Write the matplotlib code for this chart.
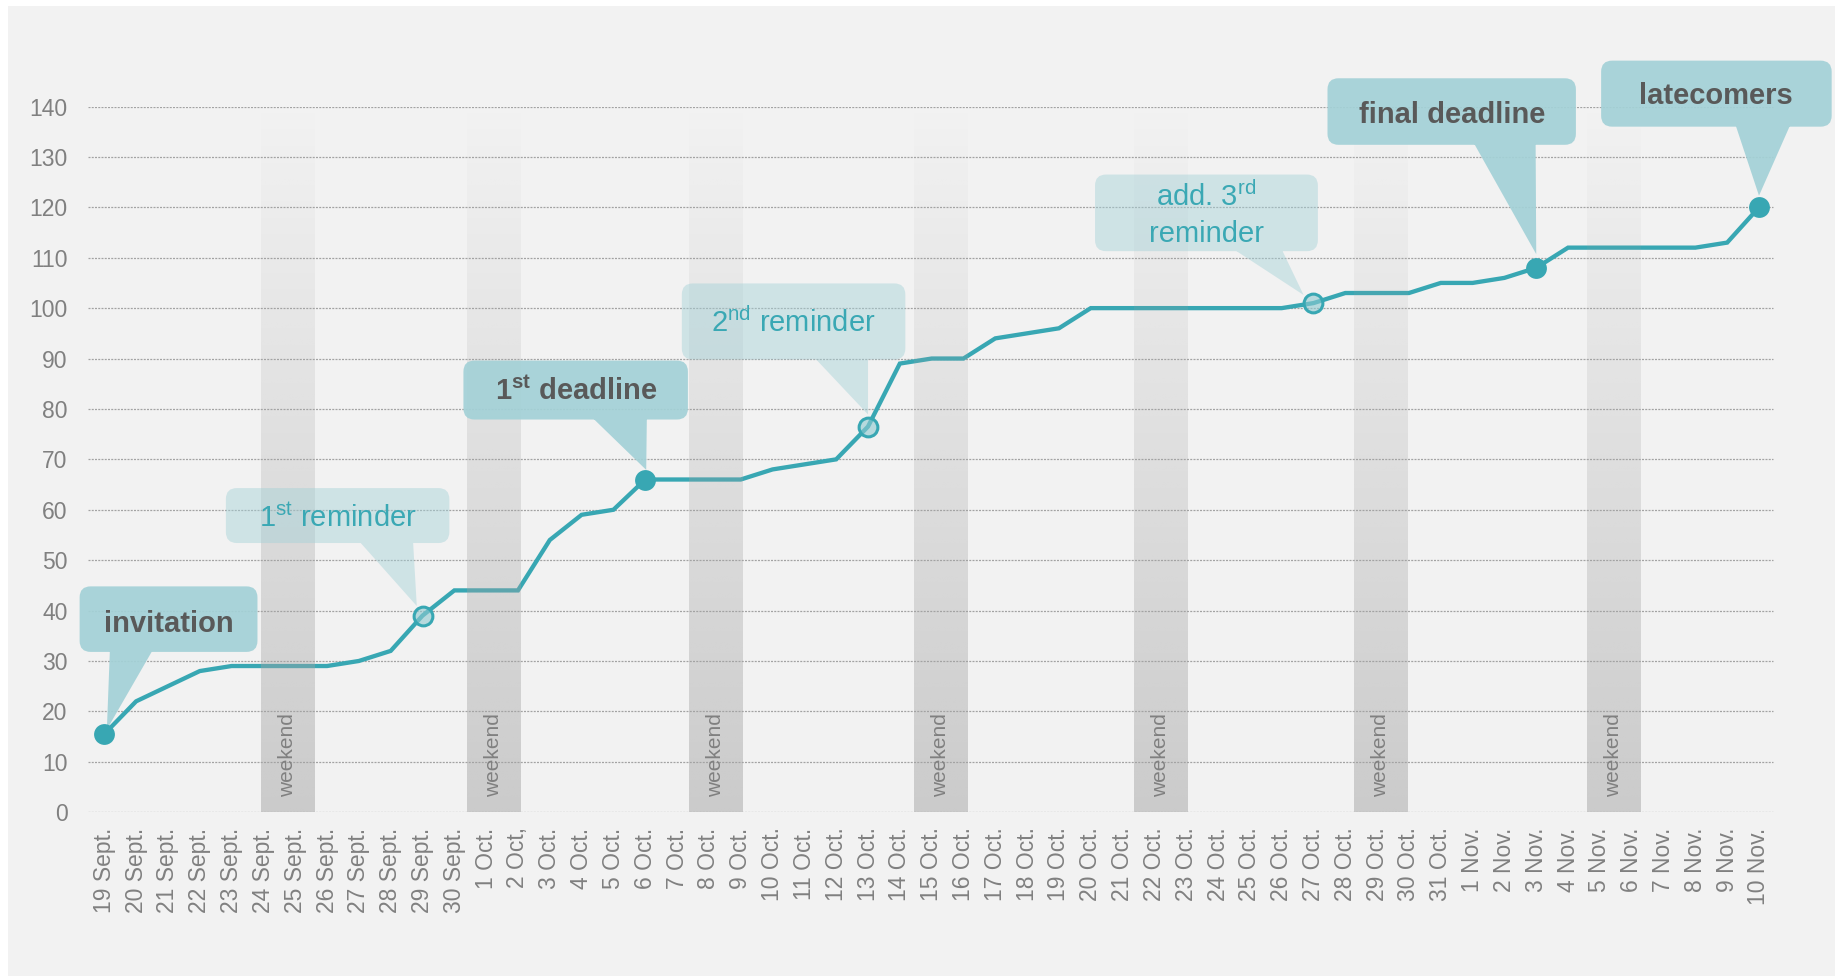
import numpy as np
import matplotlib
matplotlib.use("Agg")
import matplotlib.pyplot as plt
from matplotlib.patches import PathPatch, BoxStyle, Rectangle
from matplotlib.path import Path
from matplotlib.transforms import IdentityTransform
from matplotlib.colors import to_rgba

plt.rcParams['font.family'] = ['Liberation Sans', 'DejaVu Sans']
plt.rcParams['mathtext.fontset'] = 'custom'
plt.rcParams['mathtext.rm'] = 'Liberation Sans'
plt.rcParams['mathtext.it'] = 'Liberation Sans:italic'
plt.rcParams['mathtext.bf'] = 'Liberation Sans:bold'

# ---------------- data ----------------
dates = ['19 Sept.', '20 Sept.', '21 Sept.', '22 Sept.', '23 Sept.', '24 Sept.', '25 Sept.',
         '26 Sept.', '27 Sept.', '28 Sept.', '29 Sept.', '30 Sept.',
         '1 Oct.', '2 Oct,', '3 Oct.', '4 Oct.', '5 Oct.', '6 Oct.', '7 Oct.', '8 Oct.', '9 Oct.',
         '10 Oct.', '11 Oct.', '12 Oct.', '13 Oct.', '14 Oct.', '15 Oct.', '16 Oct.', '17 Oct.',
         '18 Oct.', '19 Oct.', '20 Oct.', '21 Oct.', '22 Oct.', '23 Oct.', '24 Oct.', '25 Oct.',
         '26 Oct.', '27 Oct.', '28 Oct.', '29 Oct.', '30 Oct.', '31 Oct.',
         '1 Nov.', '2 Nov.', '3 Nov.', '4 Nov.', '5 Nov.', '6 Nov.', '7 Nov.', '8 Nov.',
         '9 Nov.', '10 Nov.']
responses = [15.5, 22, 25, 28, 29, 29, 29, 29, 30, 32, 39, 44, 44, 44, 54, 59, 60, 66, 66, 66,
             66, 68, 69, 70, 76.5, 89, 90, 90, 94, 95, 96, 100, 100, 100, 100, 100, 100, 100,
             101, 103, 103, 103, 105, 105, 106, 108, 112, 112, 112, 112, 112, 113, 120]
y_ticks = [0, 10, 20, 30, 40, 50, 60, 70, 80, 90, 100, 110, 120, 130, 140]

weekend_saturdays = ['24 Sept.', '1 Oct.', '8 Oct.', '15 Oct.', '22 Oct.', '29 Oct.', '5 Nov.']
weekend_label = 'weekend'

event_dates = ['19 Sept.', '29 Sept.', '6 Oct.', '13 Oct.', '27 Oct.', '3 Nov.', '10 Nov.']
event_filled = [True, False, True, False, False, True, True]

# ---------------- style ----------------
TEAL = '#38a7b3'
TEAL_TXT = '#3aa8b4'
DARK_TXT = '#595959'
GRAY_TXT = '#808080'
BOX_C = '#a3d1d7'

W, H = 1835, 976
fig = plt.figure(figsize=(W / 100, H / 100), dpi=100)
fig.patch.set_facecolor('white')
fig.add_artist(Rectangle((8 / W, 0), 1, (H - 6) / H, transform=fig.transFigure,
                         facecolor='#f2f2f2', edgecolor='none', zorder=-5))

left, right = 88.4, 1774.9
bottom, top = 812.2, 106.5
ax = fig.add_axes([left / W, 1 - bottom / H, (right - left) / W, (bottom - top) / H])
ax.set_facecolor('none')
for s in ax.spines.values():
    s.set_visible(False)

x = np.arange(len(dates))

# grid
ax.hlines(y_ticks, -0.5, 52.45, colors='#a3a3a3', linewidth=0.9,
          linestyles=[(0, (1.6, 1.0))], zorder=1)

# line
ax.plot(x, responses, color=TEAL, linewidth=3.1, solid_joinstyle='miter', zorder=2)

# weekend bands (gradient)
band_shift = [0.787, 0.239, 0.223, 0.297, 0.211, 0.135, 0.450]
band_w = 1.696
grad = np.zeros((256, 1, 4))
grad[..., :3] = 164 / 255
grad[:, 0, 3] = 0.5 * (1 - np.linspace(0, 1, 256))
for d, sh in zip(weekend_saturdays, band_shift):
    c = dates.index(d) + sh
    ax.imshow(grad, extent=[c - band_w / 2, c + band_w / 2, 0, 140], origin='lower',
              aspect='auto', interpolation='bilinear', zorder=3)
    ax.text(c - 0.02, 3.0, weekend_label, rotation=90, ha='center', va='bottom',
            fontsize=15, color=GRAY_TXT, zorder=3.5)
ax.set_xlim(-0.5, 52.5)
ax.set_ylim(0, 140)

# ticks
ax.set_xticks(x)
ax.set_xticklabels(dates, rotation=90, ha='center', va='top')
ax.set_yticks(y_ticks)
ax.set_yticklabels([str(v) for v in y_ticks])
ax.tick_params(axis='x', length=0, pad=11, labelsize=16.5, labelcolor=GRAY_TXT)
ax.tick_params(axis='y', length=0, pad=15, labelsize=16.5, labelcolor=GRAY_TXT)


# ---------------- callouts ----------------
def signed_area(p):
    xs, ys = p[:, 0], p[:, 1]
    return 0.5 * np.sum(xs * np.roll(ys, -1) - np.roll(xs, -1) * ys)


def callout(box, base, tip, alpha, r=11):
    x0, x1, ytop, ybot = box
    T = ax.transData
    px0, py0 = T.transform((x0, ybot))
    px1, py1 = T.transform((x1, ytop))
    bp = BoxStyle.Round(pad=0, rounding_size=r)(px0, py0, px1 - px0, py1 - py0, 1.0)
    poly = bp.to_polygons()[0]
    bx0, by = T.transform((base[0], ybot))
    bx1, _ = T.transform((base[1], ybot))
    tx, ty = T.transform(tip)
    tri = np.array([[bx0, by + 3], [bx1, by + 3], [tx, ty]])
    if np.sign(signed_area(tri)) != np.sign(signed_area(poly)):
        tri = tri[::-1]
    verts = np.vstack([poly, poly[:1], tri, tri[:1]])
    codes = ([Path.MOVETO] + [Path.LINETO] * (len(poly) - 1) + [Path.CLOSEPOLY] +
             [Path.MOVETO, Path.LINETO, Path.LINETO, Path.CLOSEPOLY])
    patch = PathPatch(Path(verts, codes), transform=IdentityTransform(), facecolor=BOX_C,
                      edgecolor='none', alpha=alpha, zorder=4)
    patch.set_clip_on(False)
    ax.add_artist(patch)


bold_kw = dict(ha='center', va='baseline', fontsize=21, fontweight='bold', color=DARK_TXT,
               zorder=6, clip_on=False)
reg_kw = dict(ha='center', va='baseline', fontsize=21, color=TEAL_TXT, zorder=6, clip_on=False)

# invitation
callout((-0.776, 4.813, 44.8, 31.8), (0.177, 1.542), (0.08, 16.4), 0.92)
ax.text(2.034, 35.8, 'invitation', **bold_kw)
# 1st reminder
callout((3.820, 10.844, 64.3, 53.4), (7.974, 9.700), (9.82, 40.9), 0.45)
ax.text(7.352, 56.6, r'1$^{\mathrm{st}}$ reminder', **reg_kw)
# 1st deadline
callout((11.286, 18.340, 89.6, 77.9), (15.30, 17.05), (17.03, 67.9), 0.92)
ax.text(14.818, 81.8, r'1$^{\mathbf{st}}$ deadline', **bold_kw)
# 2nd reminder
callout((18.149, 25.173, 104.9, 89.8), (22.284, 24.000), (24.0, 78.9), 0.45)
ax.text(21.642, 95.3, r'2$^{\mathrm{nd}}$ reminder', **reg_kw)
# add. 3rd reminder
callout((31.134, 38.138, 126.5, 111.3), (35.439, 36.984), (37.69, 102.6), 0.45)
ax.text(34.636, 120.3, r'add. 3$^{\mathrm{rd}}$', **reg_kw)
ax.text(34.636, 113.2, 'reminder', **reg_kw)
# final deadline
callout((38.440, 46.246, 145.6, 132.4), (43.016, 44.98), (45.0, 110.7), 0.92)
ax.text(42.343, 136.8, 'final deadline', **bold_kw)
# latecomers
callout((47.039, 54.284, 149.1, 136.0), (51.25, 53.0), (52.0, 122.3), 0.92)
ax.text(50.651, 140.5, 'latecomers', **bold_kw)

# markers
open_face = to_rgba('#8fc9d0', 0.6)
for d, filled in zip(event_dates, event_filled):
    i = dates.index(d)
    if filled:
        ax.plot(i, responses[i], 'o', markersize=15, color=TEAL, markeredgewidth=0,
                zorder=7, clip_on=False)
    else:
        ax.plot(i, responses[i], 'o', markersize=13.5, markerfacecolor=open_face,
                markeredgecolor=TEAL, markeredgewidth=2.2, zorder=7, clip_on=False)

fig.savefig('out.png', dpi=100, facecolor=fig.get_facecolor())
